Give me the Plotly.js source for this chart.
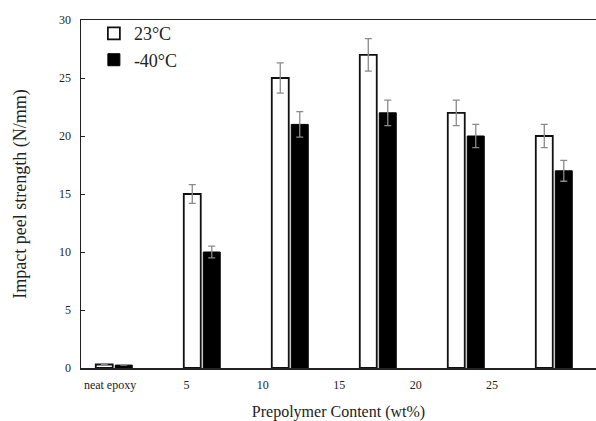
<!DOCTYPE html>
<html>
<head>
<meta charset="utf-8">
<script src="https://cdn.plot.ly/plotly-3.0.1.min.js"></script>
<style>html,body{margin:0;padding:0;background:#fff;}#chart{width:596px;height:421px;}</style>
</head>
<body>
<div id="chart"></div>
<script>
const categories = ["neat epoxy", "5", "10", "15", "20", "25"];
const seriesNames = ["23°C", "-40°C"];
const values23 = [0.3, 15, 25, 27, 22, 20];
const err23 = [0, 0.8, 1.3, 1.4, 1.1, 1.0];
const valuesM40 = [0.25, 10, 21, 22, 20, 17];
const errM40 = [0, 0.5, 1.1, 1.1, 1.0, 0.9];
const yTickVals = [0, 5, 10, 15, 20, 25, 30];

const font = "'Liberation Serif', 'Times New Roman', Times, serif";
const errStyle = {type: 'data', visible: true, color: '#8a8a8a', thickness: 1.3, width: 3.5};

const traces = [
  {type: 'bar', name: seriesNames[0], x: categories, y: values23,
   marker: {color: '#ffffff', line: {color: '#111', width: 1.8}},
   error_y: Object.assign({array: err23}, errStyle)},
  {type: 'bar', name: seriesNames[1], x: categories, y: valuesM40,
   marker: {color: '#000000', line: {color: '#000', width: 1}},
   error_y: Object.assign({array: errM40}, errStyle)},
  {type: 'scatter', x: categories, y: categories.map(() => 0), xaxis: 'x2', mode: 'markers',
   marker: {opacity: 0}, showlegend: false, hoverinfo: 'skip'}
];

const layout = {
  width: 596, height: 421,
  margin: {l: 81, r: 0, t: 20, b: 53},
  paper_bgcolor: '#fff', plot_bgcolor: '#fff',
  font: {family: font, color: '#222', size: 12},
  barmode: 'group', bargap: 0.557, bargroupgap: 0.13,
  showlegend: true,
  legend: {x: 0.025, y: 1.014, xanchor: 'left', yanchor: 'top', bgcolor: 'rgba(0,0,0,0)',
           font: {family: font, size: 18, color: '#222'}, traceorder: 'normal'},
  xaxis: {type: 'category', range: [-0.375, 5.477], showticklabels: false, ticks: '',
          showline: true, linecolor: '#222', linewidth: 1.5, mirror: true, showgrid: false, zeroline: false,
          fixedrange: true},
  xaxis2: {type: 'category', overlaying: 'x', anchor: 'y', side: 'bottom', range: [-0.38, 6.36],
           showline: false, showgrid: false, zeroline: false, ticks: '', ticklabelstandoff: 8,
           tickfont: {family: font, size: 12, color: '#222'},
           title: {text: 'Prepolymer Content (wt%)', font: {family: font, size: 16, color: '#222'}, standoff: 15}},
  yaxis: {range: [0, 30], tickvals: yTickVals, ticks: 'inside', ticklen: 4, tickcolor: '#222',
          ticklabelstandoff: 6,
          showline: true, linecolor: '#222', linewidth: 1.5, mirror: false, showgrid: false, zeroline: false,
          tickfont: {family: font, size: 12, color: '#222'},
          title: {text: 'Impact peel strength (N/mm)', font: {family: font, size: 18, color: '#222'}, standoff: 28}}
};

Plotly.newPlot('chart', traces, layout, {staticPlot: true, displayModeBar: false});
</script>
</body>
</html>
